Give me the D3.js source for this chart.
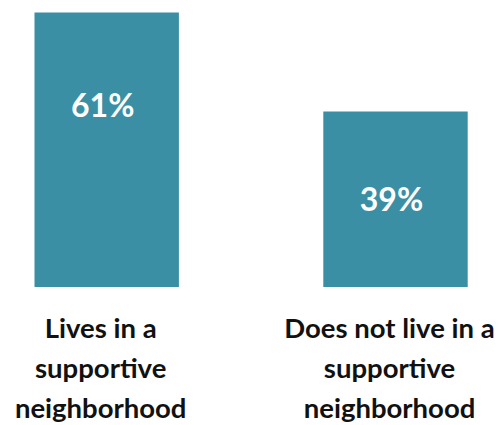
<!DOCTYPE html>
<html>
<head>
<meta charset="utf-8">
<script src="https://cdn.jsdelivr.net/npm/d3@7"></script>
<style>
  html, body { margin: 0; padding: 0; background: #fff; }
  svg { display: block; }
</style>
</head>
<body>
<svg id="chart" width="503" height="425"></svg>
<script>
// Share of respondents by neighborhood type
const categories = ["Lives in a supportive neighborhood", "Does not live in a supportive neighborhood"];
const categoryLines = [
  ["Lives in a", "supportive", "neighborhood"],
  ["Does not live in a", "supportive", "neighborhood"]
];
const values = [61, 39];

const barColor = "#3a8fa5";
const svg = d3.select("#chart");

const x = d3.scaleBand()
  .domain(categories)
  .range([34.5, 467.7])
  .paddingInner(0.5)
  .paddingOuter(0);

const y = d3.scaleLinear()
  .domain([0, 63])
  .range([287, 3.5]);

const data = categories.map((c, i) => ({ cat: c, value: values[i], lines: categoryLines[i] }));

// Bars
svg.append("g").selectAll("rect")
  .data(data)
  .join("rect")
  .attr("x", d => x(d.cat))
  .attr("y", d => y(d.value))
  .attr("width", x.bandwidth())
  .attr("height", d => y(0) - y(d.value))
  .attr("fill", barColor);

// Value labels inside the bars: centred, but kept near the top on tall bars
svg.append("g").selectAll("text")
  .data(data)
  .join("text")
  .attr("x", d => x(d.cat) + x.bandwidth() / 2 - 4)
  .attr("y", d => Math.min((y(d.value) + y(0)) / 2, y(d.value) + 92) + 12)
  .attr("text-anchor", "middle")
  .attr("font-family", "Lato, 'Open Sans', sans-serif")
  .attr("font-weight", 700)
  .attr("font-size", 32)
  .attr("fill", "#ffffff")
  .text(d => d.value + "%");

// Category labels below the bars
const lab = svg.append("g").selectAll("text")
  .data(data)
  .join("text")
  .attr("text-anchor", "middle")
  .attr("font-family", "Lato, 'Open Sans', sans-serif")
  .attr("font-weight", 700)
  .attr("font-size", 27.5)
  .attr("fill", "#111111");

lab.selectAll("tspan")
  .data(d => d.lines.map(l => ({ l, cx: x(d.cat) + x.bandwidth() / 2 - 6 })))
  .join("tspan")
  .attr("x", d => d.cx)
  .attr("y", (d, i) => 338 + i * 40)
  .text(d => d.l);
</script>
</body>
</html>
